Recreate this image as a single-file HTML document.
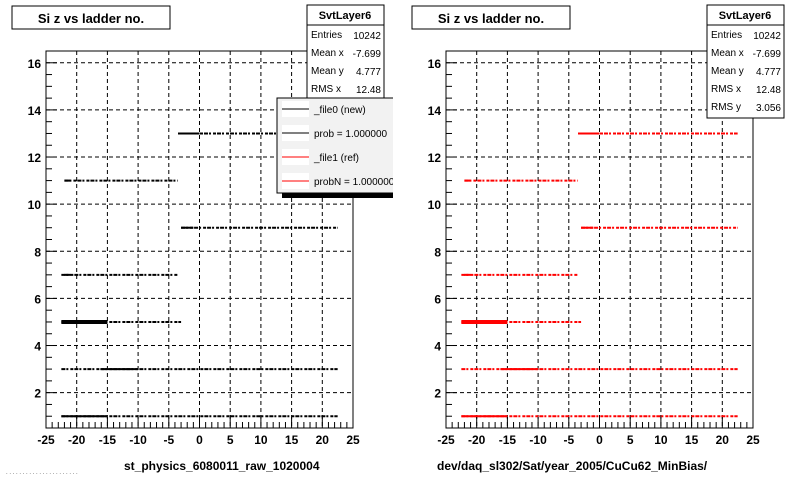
<!DOCTYPE html>
<html><head><meta charset="utf-8"><style>
body{margin:0;background:#fff;}
svg{display:block;font-family:"Liberation Sans",Arial,sans-serif;}
</style></head><body>
<svg id="c" width="800" height="480" xmlns="http://www.w3.org/2000/svg">
<defs><clipPath id="lc"><rect x="0" y="0" width="393" height="480"/></clipPath></defs>
</svg>
<script>
const ladders = [1, 3, 5, 7, 9, 11, 13];
const xStart = [-22.5, -22.5, -22.5, -22.5, -3, -22, -3.5];
const xEnd = [22.5, 22.5, -3, -3.5, 22.5, -3.5, 22.5];
const denseStart = [-22.5, -16, -22.5, -22, -3, -22, -3.5];
const denseEnd = [-15, -10, -15, -21, -1, -21, 0];
const xTicks = [-25, -20, -15, -10, -5, 0, 5, 10, 15, 20, 25];
const yTicks = [2, 4, 6, 8, 10, 12, 14, 16];
const statsLabels = ["Entries", "Mean x", "Mean y", "RMS x", "RMS y"];
const statsValues = ["10242", "-7.699", "4.777", "12.48", "3.056"];
const legendLabels = ["_file0 (new)", "prob = 1.000000", "_file1 (ref)", "probN = 1.000000"];
const legendColors = ["#000", "#000", "#f00", "#f00"];

const svg = document.getElementById('c');
const NS = "http://www.w3.org/2000/svg";
function mk(tag, attrs, parent) {
  const e = document.createElementNS(NS, tag);
  for (const k in attrs) e.setAttribute(k, attrs[k]);
  (parent || svg).appendChild(e);
  return e;
}
function txt(x, y, s, attrs, parent) {
  const t = mk('text', Object.assign({x: x, y: y}, attrs), parent);
  t.textContent = s;
  return t;
}
const X0 = -25, X1 = 25, Y0 = 0.5, Y1 = 16.5;
const FT = 51, FB = 428, FW = 307;

function panel(off, color, xlabel, xlx, showLegend) {
  const g = mk('g', {});
  
  
  const FL = 46 + off, FR = FL + FW;
  const sx = v => FL + (v - X0) / (X1 - X0) * FW;
  const sy = v => FB - (v - Y0) / (Y1 - Y0) * (FB - FT);
  xTicks.slice(1, -1).forEach(v => {
    const l = mk('line', {x1: sx(v), x2: sx(v), y1: FT, y2: FB, stroke: '#000', 'stroke-width': 1, 'stroke-dasharray': '4,3'}, g);
    
    
  });
  yTicks.forEach(v => {
    const l = mk('line', {x1: FL, x2: FR, y1: sy(v), y2: sy(v), stroke: '#000', 'stroke-width': 1, 'stroke-dasharray': '4,3'}, g);
    
    
  });
  ladders.forEach((L, i) => {
    const y = sy(L);
    const b = mk('line', {x1: sx(xStart[i]), x2: sx(xEnd[i]), y1: y, y2: y, stroke: color, 'stroke-width': 2, 'stroke-dasharray': '4,1,2,2,3,1'}, g);
    
    
    const d = mk('line', {x1: sx(denseStart[i]), x2: sx(denseEnd[i]), y1: y, y2: y, stroke: color, 'stroke-width': L === 5 ? 4 : 2}, g);
    
    
  });
  const fr = mk('rect', {x: FL, y: FT, width: FW, height: FB - FT, fill: 'none', stroke: '#000', 'stroke-width': 1}, g);
  
  
  for (let v = -25; v <= 25; v += 1) {
    const major = v % 5 === 0;
    mk('line', {x1: sx(v), x2: sx(v), y1: FB, y2: FB - (major ? 11 : 6), stroke: '#000'}, g);
  }
  xTicks.forEach(v => {
    const t = txt(sx(v), 444, String(v), {'font-size': 12, 'font-weight': 'bold', 'text-anchor': 'middle'}, g);
    
    
  });
  for (let v = 1; v <= 16; v += 0.5) {
    const major = v % 2 === 0;
    mk('line', {x1: FL, x2: FL + (major ? 11 : 6), y1: sy(v), y2: sy(v), stroke: '#000'}, g);
  }
  yTicks.forEach(v => {
    const t = txt(FL - 5, sy(v) + 5, String(v), {'font-size': 12, 'font-weight': 'bold', 'text-anchor': 'end'}, g);
    
    
  });
  const xt = txt(xlx, 470, xlabel, {'font-size': 12, 'font-weight': 'bold'}, g);
  
  
  const tg = mk('g', {}, g);
  
  
  mk('rect', {x: off + 12, y: 6, width: 158, height: 23, fill: '#fff', stroke: '#000'}, tg);
  txt(off + 91, 23, 'Si z vs ladder no.', {'font-size': 13, 'font-weight': 'bold', 'text-anchor': 'middle'}, tg);
  const sg = mk('g', {}, g);
  
  
  mk('rect', {x: off + 307, y: 5, width: 77, height: 113, fill: '#fff', stroke: '#000'}, sg);
  mk('line', {x1: off + 307, x2: off + 384, y1: 25, y2: 25, stroke: '#000'}, sg);
  txt(off + 345, 19, 'SvtLayer6', {'font-size': 11, 'font-weight': 'bold', 'text-anchor': 'middle'}, sg);
  statsLabels.forEach((s, i) => {
    txt(off + 311, 38 + i * 18, s, {'font-size': 10}, sg);
    txt(off + 381, 39 + i * 18, statsValues[i], {'font-size': 10, 'text-anchor': 'end'}, sg);
  });
  if (showLegend) {
    const lg = mk('g', {'clip-path': 'url(#lc)'}, g);
    
    
    mk('rect', {x: 282, y: 102, width: 118, height: 96, fill: '#000'}, lg);
    mk('rect', {x: 277, y: 98, width: 123, height: 95, fill: '#f2f2f2', stroke: '#000'}, lg);
    legendLabels.forEach((s, i) => {
      const y = 109 + i * 24;
      const e = mk('g', {}, lg);
      
      
      mk('rect', {x: 282, y: y - 8, width: 27, height: 16, fill: '#fff'}, e);
      mk('line', {x1: 282, x2: 309, y1: y, y2: y, stroke: legendColors[i], 'stroke-width': 1}, e);
      txt(314, y + 4, s, {'font-size': 10}, e);
    });
  }
}
panel(0, '#000', 'st_physics_6080011_raw_1020004', 124, true);
panel(400, '#f00', 'dev/daq_sl302/Sat/year_2005/CuCu62_MinBias/', 437, false);
const ft = txt(6, 474, '. . . . . . . . . . . . . . . . . . . . . .', {'font-size': 6, fill: '#555'});


</script>
</body></html>
